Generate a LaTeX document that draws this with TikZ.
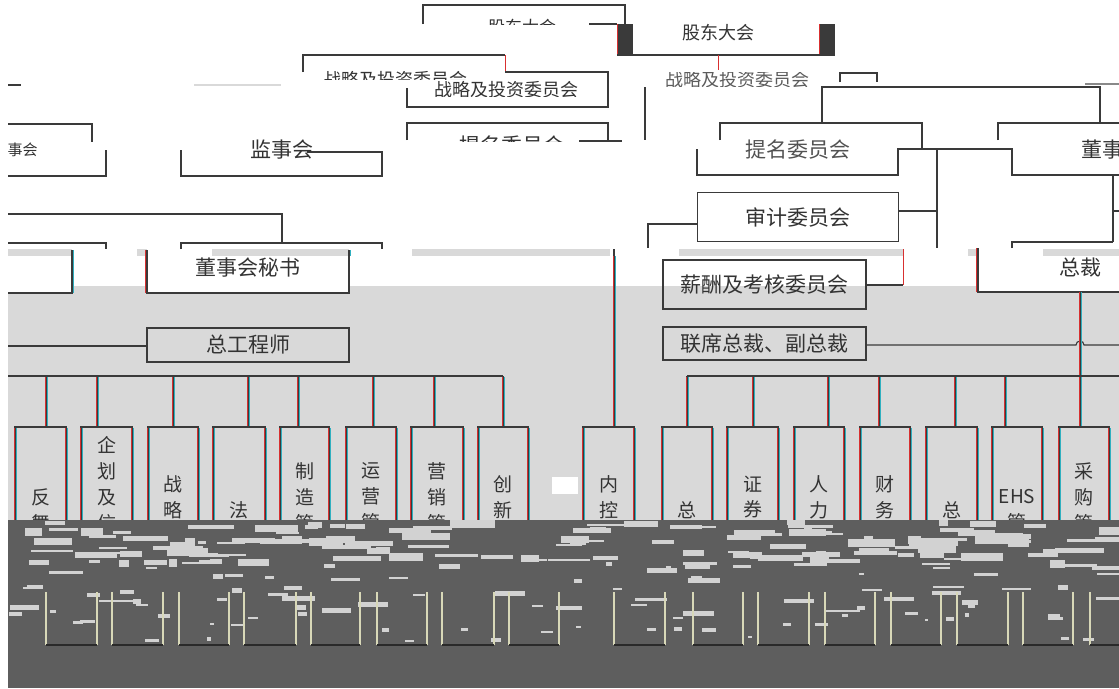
\documentclass[tikz,border=0pt]{standalone}
\usepackage{fontspec}
\newfontfamily\cjk{Noto Sans CJK SC}
\definecolor{lnc}{HTML}{3A3A3A}
\definecolor{txc}{HTML}{333333}
\definecolor{bandg}{HTML}{D9D9D9}
\definecolor{darkg}{HTML}{5E5E5E}
\definecolor{noiseg}{HTML}{D2D2D2}
\definecolor{frc}{HTML}{D83030}
\definecolor{fcc}{HTML}{30B0C0}
\definecolor{litec}{HTML}{D8D8B8}
\definecolor{botc}{HTML}{2A2A2A}
\tikzset{
  ln/.style={draw=lnc, line width=1.1pt},
  lbl/.style={font=\cjk\fontsize{21}{21}\selectfont, text=txc, inner sep=0pt},
  tier/.style={draw=lnc, line width=1.1pt, inner sep=0pt, font=\cjk\fontsize{21}{21}\selectfont, text=txc},
  dept/.style={draw=lnc, line width=1.1pt, inner sep=0pt, minimum height=218pt, align=center, font=\cjk\fontsize{19}{26}\selectfont, text=txc},
  lite/.style={draw=litec, line width=2pt},
  bot/.style={draw=botc, line width=1.2pt},
}
\newcommand{\vfr}[3]{%
  \draw[frc, line width=0.6pt] (#1-1.1,#2) -- (#1-1.1,#3);
  \draw[fcc, line width=0.6pt] (#1+1.1,#2) -- (#1+1.1,#3);}
\begin{document}
\begin{tikzpicture}[x=1pt,y=-1pt]
\useasboundingbox (0,0) rectangle (1119,688);
\fill[white] (0,0) rectangle (1119,688);
% light grey band
\fill[bandg] (8,286) rectangle (1119,520);
% white box interiors over the band
\fill[white] (147,250) rectangle (349,293);
\fill[white] (8,250) rectangle (72,293);
\fill[white] (978,248) rectangle (1119,292);
% thin grey strips
\fill[bandg] (8,249) rectangle (72,256);
\fill[bandg] (137,249) rectangle (147,256);
\fill[bandg] (212,249) rectangle (349,256);
\fill[bandg] (412,249) rectangle (610,256);
\fill[bandg] (679,249) rectangle (903,256);
\fill[bandg] (968,249) rectangle (978,256);
\fill[bandg] (1043,249) rectangle (1119,256);

% ---- top: shareholders' meeting (glitched)
\draw[ln] (423,24) -- (423,5) -- (625,5) -- (625,24);
\begin{scope}
  \clip (423,5) rectangle (625,24);
  \node[lbl, font=\cjk\fontsize{17}{17}\selectfont] (gdcut) at (522,27) {股东大会};
\end{scope}
\draw[ln] (589,24) -- (617,24);
\fill[lnc] (617,24) rectangle (633,55);
\fill[lnc] (819,24) rectangle (835,55);
\draw[frc, line width=0.9pt] (617.5,24) -- (617.5,55);
\draw[frc, line width=0.9pt] (819.5,24) -- (819.5,55);
\draw[ln] (617,55) -- (835,55);
\node[lbl, font=\cjk\fontsize{18}{18}\selectfont] (gd) at (718,33) {股东大会};
\draw[frc, line width=1pt] (718,55) -- (718,70);

% ---- strategy committee (glitched)
\draw[ln] (303,72) -- (303,55) -- (505,55);
\draw[frc, line width=1pt] (505,55) -- (505,72);
\begin{scope}
  \clip (303,55) rectangle (505,79);
  \node[lbl, font=\cjk\fontsize{18}{18}\selectfont] (zlcut) at (395,80) {战略及投资委员会};
\end{scope}
\draw[ln] (505,72) -- (608,72) -- (608,107) -- (407,107) -- (407,88);
\begin{scope}
  \clip (407,80) rectangle (608,96);
  \node[lbl, font=\cjk\fontsize{18}{18}\selectfont] (zl) at (506,90) {战略及投资委员会};
\end{scope}
\begin{scope}
  \clip (640,72) rectangle (835,86);
  \node[lbl, font=\cjk\fontsize{18}{18}\selectfont, text=txc!80] (zl2) at (737,80) {战略及投资委员会};
\end{scope}
\draw[ln] (840,82) -- (840,73) -- (877,73) -- (877,82);
\draw[ln] (645,87) -- (645,140);
\draw[ln] (8,85) -- (21,85);
\draw[draw=bandg, line width=1.1pt] (194,85) -- (281,85);
\draw[ln] (822,123) -- (822,87) -- (1100,87) -- (1100,123);
\draw[draw=lnc!60, line width=1.1pt] (1085,84) -- (1119,84);

% ---- nomination committee (glitched, left)
\draw[ln] (407,140) -- (407,123) -- (608,123) -- (608,140);
\begin{scope}
  \clip (407,123) rectangle (608,141);
  \node[lbl] (tmcut) at (512,146) {提名委员会};
\end{scope}
\draw[ln] (579,141) -- (622,141);

% ---- board (left, cut)
\draw[ln] (8,124) -- (92,124) -- (92,142);
\draw[ln] (106,150) -- (106,176) -- (8,176);
\node[lbl, font=\cjk\fontsize{15}{15}\selectfont] (dsh) at (15,150) {董事会};

% ---- supervisory board
\draw[ln] (181,150) -- (181,176) -- (382,176) -- (382,152) -- (307,152);
\node[lbl] (jsh) at (282,150) {监事会};

% ---- right glitched committee box
\draw[ln] (720,140) -- (720,123) -- (922,123) -- (922,149);
\draw[ln] (697,149) -- (697,175) -- (898,175) -- (898,149) -- (1012,149) -- (1012,175) -- (1119,175);
\node[lbl, text=txc!85] (tm) at (798,150) {提名委员会};
\draw[ln] (998,140) -- (998,123) -- (1119,123);
\node[lbl] (dsh2) at (1113,150) {董事会};
\draw[ln] (937,149) -- (937,248);
\draw[ln] (1113,175) -- (1113,242);
\draw[ln] (1113,211) -- (1119,211);
\draw[ln] (1012,248) -- (1012,242) -- (1113,242);

% ---- audit committee
\node[tier, minimum width=201pt, minimum height=49pt] (sj) at (798,217) {审计委员会};
\draw[ln] (sj.east |- 0,211) -- (937,211);
\draw[ln] (sj.west |- 0,224) -- (648,224) -- (648,248);

% ---- president
\draw[ln] (978,248) -- (978,292) -- (1119,292);
\draw[frc, line width=0.7pt] (976.8,248) -- (976.8,292);
\node[lbl] (zc) at (1080,267) {总裁};

% ---- remuneration committee
\node[tier, minimum width=203pt, minimum height=49pt] (xc) at (764.5,284.5) {薪酬及考核委员会};
\draw[ln] (xc.east |- 0,285) -- (903,285);
\draw[frc, line width=1pt] (903,285) -- (903,249);

% ---- joint presidents
\node[tier, minimum width=203pt, minimum height=33pt] (lx) at (764.5,343.5) {联席总裁、副总裁};
\draw[ln] (lx.east |- 0,345) -- (1076,345) arc[start angle=180, end angle=0, radius=4pt] -- (1119,345);

% ---- board secretary
\draw[ln] (8,214) -- (282,214) -- (282,243);
\draw[ln] (181,249) -- (181,243) -- (382,243) -- (382,249);
\draw[ln] (8,243) -- (106,243) -- (106,249);
\draw[ln] (147,250) -- (147,293) -- (349,293) -- (349,250);
\draw[frc, line width=0.7pt] (145.8,250) -- (145.8,293);
\draw[fcc, line width=0.7pt] (350.2,250) -- (350.2,256);
\node[lbl] (ms) at (248,268) {董事会秘书};
\draw[ln] (72,250) -- (72,293) -- (8,293);
\draw[fcc, line width=0.7pt] (73.2,250) -- (73.2,293);

% ---- chief engineer
\node[tier, minimum width=202pt, minimum height=34pt] (zg) at (248,345) {总工程师};
\draw[ln] (8,346) -- (zg.west |- 0,346);

% ---- vertical links
\draw[ln] (614,249) -- (614,427);
\vfr{614}{256}{427}
\draw[ln] (1080,292) -- (1080,427);
\vfr{1080}{292}{427}

% ---- buses
\draw[ln] (8,376) -- (503,376);
\draw[ln] (687,376) -- (1119,376);
\foreach \xx in {46,97,173,248,298,373,434,503,687,753,828,879,955,1005,1080}{
  \draw[ln] (\xx,376) -- (\xx,427);
  \vfr{\xx}{377}{427}
}

% ---- departments
\node[dept, minimum width=51pt] (d1) at (40.5,536) {反\\舞\\弊\\部};
\node[dept, minimum width=51pt] (d2) at (106.5,536) {企\\划\\及\\信\\息\\管\\理\\部};
\node[dept, minimum width=50pt] (d3) at (173,536) {战\\略\\管\\理\\部};
\node[dept, minimum width=52pt] (d4) at (239,536) {法\\务\\部};
\node[dept, minimum width=49pt] (d5) at (304.5,536) {制\\造\\管\\理\\中\\心};
\node[dept, minimum width=50pt] (d6) at (371,536) {运\\营\\管\\理\\中\\心};
\node[dept, minimum width=52pt] (d7) at (437,536) {营\\销\\管\\理\\中\\心};
\node[dept, minimum width=50pt] (d8) at (503,536) {创\\新\\研\\究\\院};
\node[dept, minimum width=51pt] (d9) at (608.5,536) {内\\控\\审\\计\\部};
\node[dept, minimum width=50pt] (d10) at (687,536) {总\\裁\\办};
\node[dept, minimum width=51pt] (d11) at (752.5,536) {证\\券\\事\\务\\部};
\node[dept, minimum width=50pt] (d12) at (819,536) {人\\力\\资\\源\\部};
\node[dept, minimum width=50pt] (d13) at (885,536) {财\\务\\管\\理\\部};
\node[dept, minimum width=51pt] (d14) at (951.5,536) {总\\务\\部};
\node[dept, minimum width=50pt] (d15) at (1017,536) {EHS\\管\\理\\部};
\node[dept, minimum width=50pt] (d16) at (1084,536) {采\\购\\管\\理\\中\\心};
\foreach \a/\b in {15/66,81/132,148/198,213/265,280/329,346/396,411/463,478/528,583/634,662/712,727/778,794/844,860/910,926/977,992/1042,1059/1109}{
  \vfr{\a}{428}{520}
  \vfr{\b}{428}{520}
}
\fill[white] (552,477) rectangle (578,494);

% ---- dark corrupted band
\fill[darkg] (8,520) rectangle (1119,688);
\pgfmathsetseed{12}
\foreach \i in {1,...,120}{
  \pgfmathrandominteger{\xa}{8}{1100}
  \pgfmathrandominteger{\ya}{520}{560}
  \pgfmathrandominteger{\wa}{8}{50}
  \pgfmathrandominteger{\ha}{2}{8}
  \fill[noiseg] (\xa,\ya) rectangle ++(\wa,\ha);
}
\foreach \i in {1,...,70}{
  \pgfmathrandominteger{\xa}{8}{1100}
  \pgfmathrandominteger{\ya}{560}{612}
  \pgfmathrandominteger{\wa}{5}{35}
  \pgfmathrandominteger{\ha}{2}{5}
  \fill[noiseg] (\xa,\ya) rectangle ++(\wa,\ha);
}
\foreach \i in {1,...,30}{
  \pgfmathrandominteger{\xa}{8}{1100}
  \pgfmathrandominteger{\ya}{612}{640}
  \pgfmathrandominteger{\wa}{3}{15}
  \pgfmathrandominteger{\ha}{2}{4}
  \fill[noiseg] (\xa,\ya) rectangle ++(\wa,\ha);
}
% lower parts of the department boxes (shifted)
\foreach \a/\b in {15/66,81/132,148/198,213/265,280/329,346/396,411/463,478/528,583/634,662/712,727/778,794/844,860/910,926/977,992/1042,1059/1109}{
  \draw[lite] (\a+31,592) -- (\a+31,645);
  \draw[lite] (\b+31,592) -- (\b+31,645);
  \draw[bot] (\a+31,645) -- (\b+31,645);
}
% white left margin
\fill[white] (0,0) rectangle (8,688);
\end{tikzpicture}
\end{document}
